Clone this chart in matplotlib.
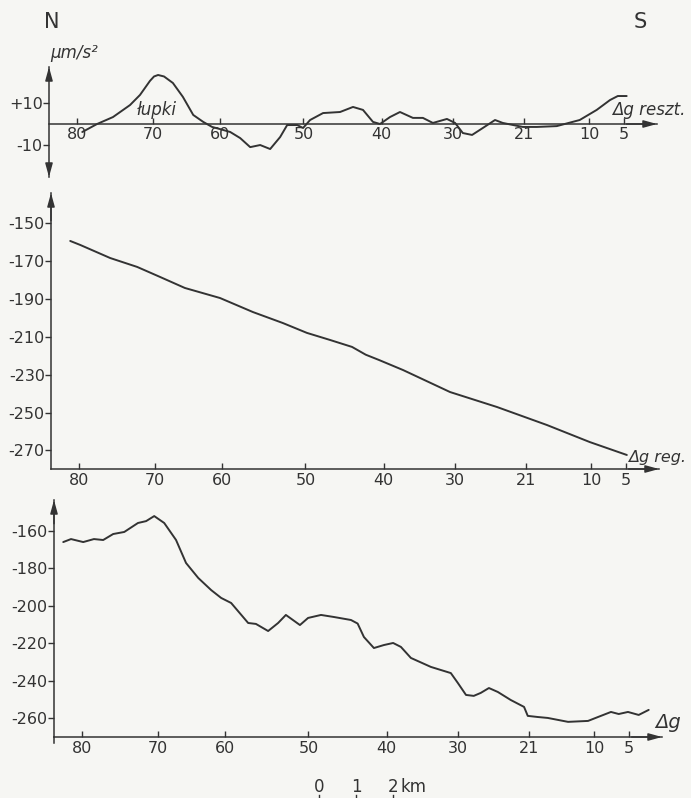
import matplotlib
matplotlib.use("Agg")
import matplotlib.pyplot as plt

# ---------------- data ----------------
station_labels = ["80", "70", "60", "50", "40", "30", "21", "10", "5"]
station_km = [0.0, 2.06, 3.87, 6.12, 8.24, 10.17, 12.09, 13.85, 14.78]

# residual anomaly (Δg reszt.), µm/s²
resid_km = [0.14, 0.54, 0.97, 1.43, 1.70, 1.97, 2.08, 2.19, 2.35, 2.59, 2.86, 3.14,
            3.41, 3.65, 3.86, 4.14, 4.41, 4.68, 4.95, 5.22, 5.49, 5.68, 5.95, 6.11,
            6.30, 6.65, 7.11, 7.46, 7.73, 8.00, 8.19, 8.46, 8.73, 9.08, 9.35, 9.62,
            10.00, 10.22, 10.43, 10.68, 10.97, 11.30, 11.51, 12.05, 12.43, 12.97,
            13.59, 14.05, 14.41, 14.62, 14.86]
resid_val = [-3.8, 0.0, 3.3, 9.0, 13.8, 20.5, 22.6, 23.3, 22.6, 19.5, 12.9, 4.3,
             1.0, -1.4, -2.4, -3.8, -6.7, -11.0, -10.0, -11.9, -6.2, -0.5, -0.5, -1.9,
             1.9, 5.2, 5.7, 8.1, 6.7, 1.0, 0.0, 3.3, 5.7, 2.9, 2.9, 0.5,
             2.4, 0.5, -4.3, -5.2, -1.9, 1.9, 0.5, -1.4, -1.4, -1.0,
             1.9, 6.7, 11.4, 13.3, 13.3]

# regional field (Δg reg.)
reg_km = [-0.24, 0.03, 0.84, 1.57, 2.19, 2.86, 3.81, 4.70, 5.51, 6.16, 6.78,
          7.38, 7.75, 8.11, 8.76, 10.03, 11.30, 12.65, 13.81, 14.81]
reg_val = [-159.5, -161.6, -168.5, -173.2, -178.5, -184.3, -189.6, -197.0, -202.8,
           -208.0, -211.7, -215.4, -219.5, -222.3, -227.6, -239.2, -247.1, -256.6,
           -265.6, -272.4]

# observed anomaly (Δg)
obs_km = [-0.51, -0.30, 0.03, 0.32, 0.57, 0.84, 1.14, 1.51, 1.73, 1.95, 2.22, 2.54,
          2.81, 3.14, 3.49, 3.76, 4.03, 4.49, 4.70, 5.03, 5.30, 5.51, 5.70, 5.89,
          6.11, 6.46, 6.81, 7.27, 7.45, 7.62, 7.89, 8.16, 8.41, 8.62, 8.89, 9.43,
          9.97, 10.16, 10.38, 10.59, 10.78, 11.00, 11.24, 11.59, 11.95, 12.05, 12.32,
          12.59, 13.14, 13.68, 13.95, 14.30, 14.51, 14.76, 15.05, 15.32]
obs_val = [-165.9, -164.3, -165.9, -164.3, -164.8, -161.6, -160.5, -155.7, -154.7,
           -152.0, -155.7, -164.8, -177.1, -185.1, -191.6, -195.8, -198.5, -209.2,
           -209.7, -213.5, -209.2, -204.9, -207.6, -210.3, -206.5, -204.9, -206.0,
           -207.6, -209.5, -216.7, -222.6, -221.0, -219.9, -222.0, -227.9, -232.7,
           -236.0, -241.3, -247.7, -248.2, -246.6, -244.0, -246.1, -250.4, -254.1,
           -258.9, -259.5, -260.0, -262.1, -261.6, -259.5, -256.8, -257.9, -256.8,
           -258.4, -255.7]

resid_ticks = [10, -10]
resid_ticklabels = ["+10", "-10"]
reg_ticks = [-150, -170, -190, -210, -230, -250, -270]
obs_ticks = [-160, -180, -200, -220, -240, -260]

# ---------------- style ----------------
W, H = 691, 798
PAPER = "#f6f6f3"
INK = "#333333"
FONT = ["Liberation Sans Narrow", "DejaVu Sans"]
plt.rcParams["font.family"] = FONT

XMIN, XMAX = -0.76, 15.68

fig = plt.figure(figsize=(W / 100, H / 100), dpi=100, facecolor=PAPER)


def box(l, t, r, b):
    return [l / W, 1 - b / H, (r - l) / W, (b - t) / H]


def arrow(ax, xy, xytext, coords):
    ax.annotate("", xy=xy, xytext=xytext, xycoords=coords, textcoords=coords,
                arrowprops=dict(arrowstyle="-|>,head_length=0.8,head_width=0.22",
                                color=INK, lw=1.1, mutation_scale=10,
                                shrinkA=0, shrinkB=0),
                annotation_clip=False)


def setup(ax, ylim, yticks, ylabels, zero=None, down=False):
    ax.set_xlim(XMIN, XMAX)
    ax.set_ylim(*ylim)
    ax.set_facecolor("none")
    for s in ("top", "right"):
        ax.spines[s].set_visible(False)
    for s in ("left", "bottom"):
        ax.spines[s].set_color(INK)
        ax.spines[s].set_linewidth(1.1)
    if zero is not None:
        ax.spines["bottom"].set_position(("data", zero))
    ax.set_xticks(station_km, station_labels)
    ax.set_yticks(yticks, ylabels)
    ax.tick_params(axis="x", direction="in", length=4, width=1.0, pad=3,
                   colors=INK, labelsize=11.5)
    ax.tick_params(axis="y", direction="out", length=4, width=1.0, pad=0.5,
                   colors=INK, labelsize=11.5)
    # arrow heads
    arrow(ax, (0, 1.0), (0, 0.9), "axes fraction")
    if down:
        arrow(ax, (0, 0.0), (0, 0.1), "axes fraction")
    if zero is not None:
        arrow(ax, (1.0, zero), (0.95, zero), ("axes fraction", "data"))
    else:
        arrow(ax, (1.0, 0), (0.95, 0), "axes fraction")


# top panel: residual
ax1 = fig.add_axes(box(49, 67, 657, 177))
setup(ax1, (-25.2, 27.1), resid_ticks, resid_ticklabels, zero=0, down=True)
ax1.plot(resid_km, resid_val, color=INK, lw=1.4, solid_capstyle="round",
         solid_joinstyle="round")
ax1.tick_params(axis="x", pad=2)

# middle panel: regional
ax2 = fig.add_axes(box(51, 193, 659, 469))
setup(ax2, (-279.8, -134.2), reg_ticks, [str(t) for t in reg_ticks])
ax2.plot(reg_km, reg_val, color=INK, lw=1.4, solid_capstyle="round",
         solid_joinstyle="round")

# bottom panel: observed
ax3 = fig.add_axes(box(54, 500, 662, 737))
setup(ax3, (-270.2, -143.4), obs_ticks, [str(t) for t in obs_ticks])
ax3.plot(obs_km, obs_val, color=INK, lw=1.4, solid_capstyle="round",
         solid_joinstyle="round")
# small overshoot of the y axis below the x axis
ax3.plot([XMIN, XMIN], [-270.2, -273.5], color=INK, lw=1.1, clip_on=False)


def ftext(x, y, s, **kw):
    fig.text(x / W, 1 - y / H, s, color=INK, **kw)


ftext(52, 22, "N", fontsize=15, ha="center", va="center")
ftext(640, 22, "S", fontsize=15, ha="center", va="center")
ftext(50, 53, "μm/s²", fontsize=12, style="italic", ha="left", va="center")
ftext(157, 110, "łupki", fontsize=12, style="italic", ha="center", va="center")
ftext(612, 110, "Δg reszt.", fontsize=12, style="italic", ha="left", va="center")
ftext(628, 457, "Δg reg.", fontsize=11.5, style="italic", ha="left", va="center")
ftext(655, 722, "Δg", fontsize=14, style="italic", ha="left", va="center")

# scale bar
for xs, lab in ((319, "0"), (356, "1"), (393, "2")):
    ftext(xs, 787, lab, fontsize=12, ha="center", va="center")
    fig.add_artist(plt.Line2D([xs / W, xs / W], [1 - 795 / H, 1 - 798 / H],
                              color=INK, lw=1.0))
ftext(400, 787, "km", fontsize=12, ha="left", va="center")

fig.savefig("out.png", dpi=100, facecolor=PAPER)
